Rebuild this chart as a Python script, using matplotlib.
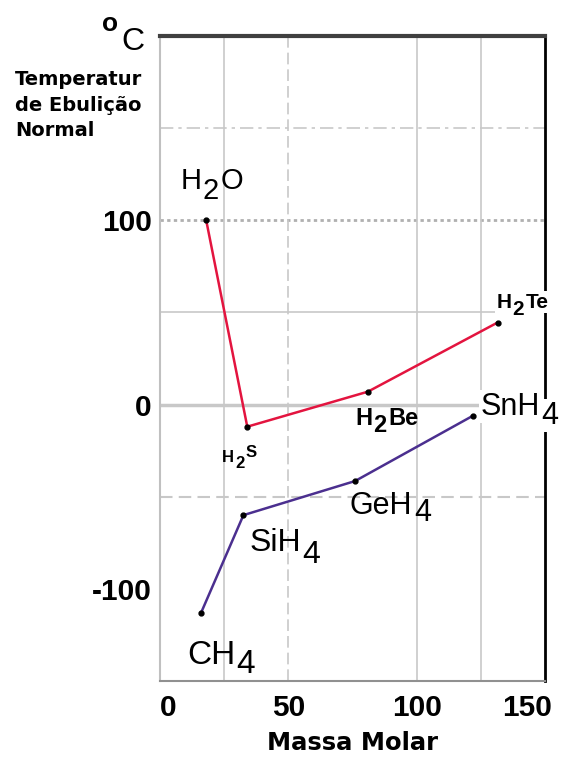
import matplotlib
matplotlib.use("Agg")
import matplotlib.pyplot as plt
from matplotlib.transforms import ScaledTranslation

plt.rcParams['font.family'] = ['Liberation Sans', 'DejaVu Sans']

# Data
group16_names = ["H2O", "H2S", "H2Be", "H2Te"]
group16_mass = [18, 34, 81, 131.5]
group16_temp = [100, -12, 7, 44.5]

group14_names = ["CH4", "SiH4", "GeH4", "SnH4"]
group14_mass = [16, 32.5, 76, 122]
group14_temp = [-113, -60, -41.5, -6]

x_ticks = [0, 50, 100, 150]
y_ticks = [-100, 0, 100]
y_ticklabels = ["-100", "0", "100"]

fig = plt.figure(figsize=(5.65, 7.6), dpi=100)
ax = fig.add_axes([160/565, 1-681/760, 385/565, (681-36)/760])
ax.set_xlim(0, 150)
ax.set_ylim(-150, 200)

# grid lines
gc = '#c8c8c8'
ax.axhline(150, color=gc, lw=1.2, ls=(0, (8, 3, 2, 3)), zorder=0)
ax.axhline(100, color='#b0b0b0', lw=2, ls=(0, (1.2, 1.2)), zorder=0)
ax.axhline(50, color=gc, lw=1.2, zorder=0)
ax.axhline(0, color=gc, lw=2.5, zorder=0)
ax.axhline(-50, color=gc, lw=1.5, ls=(0, (6, 3)), zorder=0)
ax.axvline(25, color=gc, lw=1.2, zorder=0)
ax.axvline(50, color=gc, lw=1.2, ls=(0, (7, 3)), zorder=0)
ax.axvline(100, color=gc, lw=1.2, zorder=0)
ax.axvline(125, color=gc, lw=1.2, zorder=0)

# series
ax.plot(group16_mass, group16_temp, color='#e3143f', lw=1.8, zorder=3)
ax.plot(group16_mass, group16_temp, 'o', color='black', ms=3.5, zorder=4)
ax.plot(group14_mass, group14_temp, color='#4b2f8f', lw=1.8, zorder=3)
ax.plot(group14_mass, group14_temp, 'o', color='black', ms=3.5, zorder=4)

# spines
ax.spines['top'].set_color('#404040')
ax.spines['top'].set_linewidth(3)
ax.spines['right'].set_color('black')
ax.spines['right'].set_linewidth(2)
ax.spines['left'].set_color('#c0c0c0')
ax.spines['left'].set_linewidth(1.5)
ax.spines['bottom'].set_color('#909090')
ax.spines['bottom'].set_linewidth(1.5)
ax.spines['bottom'].set_linestyle((0, (1, 1)))

ax.set_xticks(x_ticks)
ax.set_yticks(y_ticks)
ax.set_yticklabels(y_ticklabels)
ax.tick_params(length=0, labelsize=21.5)
ax.tick_params(axis='y', pad=6)
ax.tick_params(axis='x', pad=9)
for t in ax.get_xticklabels():
    t.set_fontweight('bold')
for t in ax.get_yticklabels():
    t.set_fontweight('bold')
xl = ax.get_xticklabels()
xl[0].set_transform(xl[0].get_transform() + ScaledTranslation(8/100, 0, fig.dpi_scale_trans))
xl[-1].set_transform(xl[-1].get_transform() + ScaledTranslation(-18/100, 0, fig.dpi_scale_trans))

ax.set_xlabel("Massa Molar", fontsize=17.5, fontweight='bold', labelpad=7,
              family='DejaVu Sans')

fig.text(121/565, 1-50/760, "C", fontsize=23, ha='left', va='baseline')
fig.text(102/565, 1-31/760, "o", fontsize=19, fontweight='bold', ha='left', va='baseline')
fig.text(15/565, 1-136/760, "Temperatur\nde Ebulição\nNormal", fontsize=14,
         fontweight='bold', ha='left', va='baseline', linespacing=1.42,
         family='DejaVu Sans')


def chem_label(x, y, parts, size, weight='normal', boxed=False):
    """parts: list of (text, vertical offset in points relative to previous piece)."""
    prev = None
    bb = dict(facecolor='white', edgecolor='none', pad=1) if boxed else None
    for txt, dy in parts:
        if prev is None:
            prev = ax.text(x, y, txt, fontsize=size, fontweight=weight,
                           ha='left', va='baseline', zorder=5, bbox=bb)
        else:
            prev = ax.annotate(txt, xy=(1, 0), xycoords=prev, xytext=(1, dy),
                               textcoords='offset points', fontsize=size,
                               fontweight=weight, ha='left', va='bottom',
                               zorder=5, bbox=bb)


chem_label(8, 117, [("H", 0), ("2", -7.5), ("O", 7.5)], 21)
chem_label(24, -31, [("H", 0), ("2", -4.5), ("S", 8)], 12, 'bold')
chem_label(76, -11, [("H", 0), ("2", -5), ("Be", 5)], 17, 'bold')
chem_label(131, 52.5, [("H", 0), ("2", -5), ("Te", 5)], 15, 'bold', boxed=True)
chem_label(10.5, -141, [("CH", 0), ("4", -6)], 24)
chem_label(34.8, -79.5, [("SiH", 0), ("4", -8.5)], 23)
chem_label(74, -59.5, [("GeH", 0), ("4", -5)], 22)
chem_label(125, -5.5, [("SnH", 0), ("4", -6.5)], 22, boxed=True)

fig.savefig("out.png", dpi=100)
